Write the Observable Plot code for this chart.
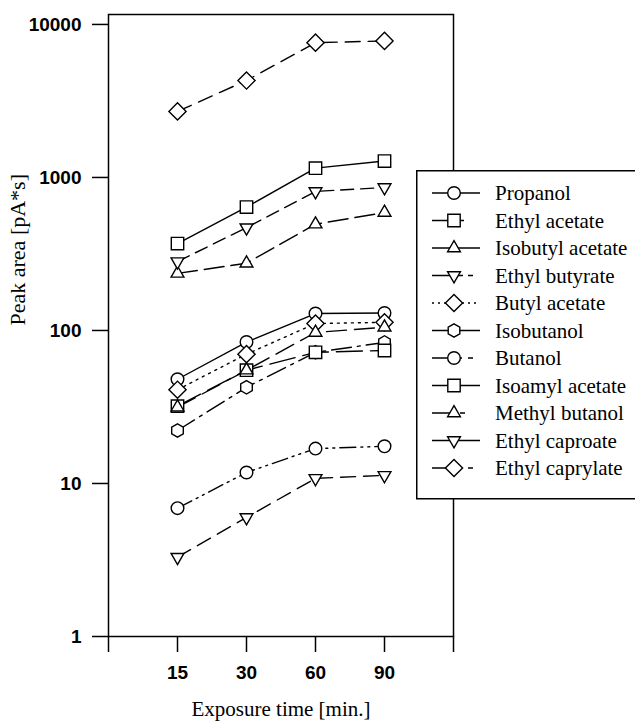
<!DOCTYPE html>
<html>
<head>
<meta charset="utf-8">
<script src="https://cdn.jsdelivr.net/npm/d3@7"></script>
<script src="https://cdn.jsdelivr.net/npm/@observablehq/plot@0.6"></script>
<style>
  html, body { margin: 0; padding: 0; background: #fff; }
  #wrap { position: relative; width: 635px; height: 728px; overflow: hidden; background: #fff; }
  #legend { position: absolute; left: 416px; top: 170px; }
</style>
</head>
<body>
<div id="wrap"><div id="chart"></div><svg id="legend" width="240" height="330"></svg></div>
<script>
// ---- data ----
const times = ["15", "30", "60", "90"];
const names = ["Propanol", "Ethyl acetate", "Isobutyl acetate", "Ethyl butyrate", "Butyl acetate",
  "Isobutanol", "Butanol", "Isoamyl acetate", "Methyl butanol", "Ethyl caproate", "Ethyl caprylate"];
const propanol       = [48, 84, 129, 130];
const ethylAcetate   = [370, 640, 1150, 1280];
const isobutylAcetate= [236, 275, 495, 590];
const ethylButyrate  = [282, 470, 810, 860];
const butylAcetate   = [41, 70, 111, 113];
const isobutanol     = [22.2, 42.5, 72, 83.5];
const butanol        = [6.9, 11.8, 16.9, 17.5];
const isoamylAcetate = [32, 55, 72, 74];
const methylButanol  = [31.5, 55, 97, 105];
const ethylCaproate  = [3.3, 6.0, 10.8, 11.3];
const ethylCaprylate = [2700, 4300, 7600, 7800];
const yTicks = [1, 10, 100, 1000, 10000];

const seriesValues = [propanol, ethylAcetate, isobutylAcetate, ethylButyrate, butylAcetate,
  isobutanol, butanol, isoamylAcetate, methylButanol, ethylCaproate, ethylCaprylate];

// ---- symbols (fixed geometry) ----
const sym = {
  circle: {draw(c) { c.moveTo(6.3, 0); c.arc(0, 0, 6.3, 0, 2 * Math.PI); c.closePath(); }},
  square: {draw(c) { const h = 6.2; c.moveTo(-h, -h); c.lineTo(h, -h); c.lineTo(h, h); c.lineTo(-h, h); c.closePath(); }},
  up: {draw(c) { const s = 7.4, u = s * Math.sqrt(3) / 2; c.moveTo(0, -s); c.lineTo(u, s / 2); c.lineTo(-u, s / 2); c.closePath(); }},
  down: {draw(c) { const s = 7.4, u = s * Math.sqrt(3) / 2; c.moveTo(0, s); c.lineTo(u, -s / 2); c.lineTo(-u, -s / 2); c.closePath(); }},
  diamond: {draw(c) { const h = 8.6; c.moveTo(0, -h); c.lineTo(h, 0); c.lineTo(0, h); c.lineTo(-h, 0); c.closePath(); }},
  hexagon: {draw(c) { const R = 6.7; for (let k = 0; k < 6; k++) { const a = -Math.PI / 2 + k * Math.PI / 3; const x = R * Math.cos(a), y = R * Math.sin(a); if (k === 0) c.moveTo(x, y); else c.lineTo(x, y); } c.closePath(); }}
};
const seriesSymbols = [sym.circle, sym.square, sym.up, sym.down, sym.diamond,
  sym.hexagon, sym.circle, sym.square, sym.up, sym.down, sym.diamond];
const seriesDash = [null, null, "20,7", "13,7", "2,5",
  "20,6,3,6", "16,5,2,5,2,5", "26,8", "20,8", "15,8", "15,8"];
const legendDash = [null, "22,5,5,20", null, "22,4,5,5,5", "2,4",
  null, "22,3,5,6,5", null, "22,6,5,20", null, "22,3,5,6,5"];

const table = [];
names.forEach((n, i) => seriesValues[i].forEach((v, j) => table.push({name: n, s: i, t: times[j], xi: j + 1, v})));

const marks = [];
names.forEach((n, i) => {
  marks.push(Plot.line(table.filter(d => d.s === i), {
    x: "xi", y: "v", stroke: "#000", strokeWidth: 1.4,
    strokeDasharray: seriesDash[i] ?? undefined
  }));
});
names.forEach((n, i) => {
  marks.push(Plot.dot(table.filter(d => d.s === i), {
    x: "xi", y: "v", symbol: seriesSymbols[i], r: 6,
    fill: "#fff", stroke: "#000", strokeWidth: 1.4
  }));
});

const chart = Plot.plot({
  width: 635,
  height: 728,
  marginLeft: 108,
  marginRight: 182,
  marginTop: 14,
  marginBottom: 92,
  style: {background: "#fff", color: "#000", overflow: "visible"},
  x: {type: "linear", domain: [0, 5], axis: null},
  y: {type: "log", domain: [1, Math.pow(10, 4.065)], axis: null},
  marks: [
    Plot.axisY({ticks: yTicks, tickSize: 16, tickPadding: 11, tickFormat: d => String(d),
      label: null, fontSize: 19, fontWeight: "bold", fontFamily: "Liberation Sans, Arial, sans-serif", strokeWidth: 1.5}),
    Plot.axisX({ticks: [0, 1, 2, 3, 4, 5], tickSize: 16, tickPadding: 13,
      tickFormat: i => (i >= 1 && i <= times.length) ? times[i - 1] : "",
      label: null, fontSize: 19, fontWeight: "bold", fontFamily: "Liberation Sans, Arial, sans-serif", strokeWidth: 1.5}),
    Plot.frame({stroke: "#000", strokeWidth: 1.5}),
    ...marks,
    Plot.text(["Exposure time [min.]"], {frameAnchor: "bottom", dy: 79, fontSize: 21,
      fontFamily: "Liberation Serif, Times New Roman, serif", fill: "#000"}),
    Plot.text(["Peak area [pA*s]"], {frameAnchor: "left", dx: -91, rotate: -90, fontSize: 22,
      fontFamily: "Liberation Serif, Times New Roman, serif", fill: "#000"})
  ]
});
document.getElementById("chart").appendChild(chart);

// ---- legend ----
const lg = d3.select("#legend");
lg.append("rect").attr("x", 0.75).attr("y", 0.75).attr("width", 260).attr("height", 328)
  .attr("fill", "#fff").attr("stroke", "#000").attr("stroke-width", 1.5);
names.forEach((n, i) => {
  const y = 23 + i * 27.5;
  const g = lg.append("g").attr("transform", `translate(0,${y})`);
  g.append("line").attr("x1", 16).attr("x2", 64).attr("y1", 0).attr("y2", 0)
    .attr("stroke", "#000").attr("stroke-width", 1.4)
    .attr("stroke-dasharray", legendDash[i]);
  const p = d3.path();
  seriesSymbols[i].draw(p);
  g.append("path").attr("transform", "translate(38,0)").attr("d", p.toString())
    .attr("fill", "#fff").attr("stroke", "#000").attr("stroke-width", 1.4);
  g.append("text").attr("x", 79).attr("y", 0).attr("dy", "0.35em")
    .attr("font-family", "Liberation Serif, Times New Roman, serif").attr("font-size", 21)
    .attr("fill", "#000").text(n);
});
</script>
</body>
</html>
